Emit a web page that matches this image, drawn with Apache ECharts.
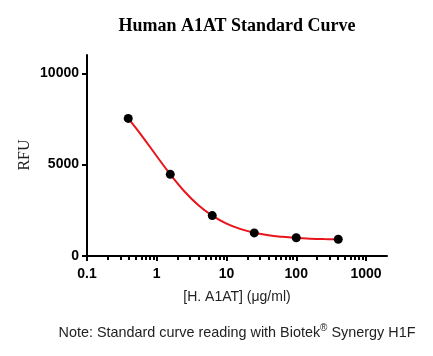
<!DOCTYPE html>
<html>
<head>
<meta charset="utf-8">
<script src="https://cdn.jsdelivr.net/npm/echarts@6/dist/echarts.min.js"></script>
<style>
html,body{margin:0;padding:0;background:#fff;}
#chart{width:433px;height:356px;}
</style>
</head>
<body>
<div id="chart"></div>
<script>
// Measured standards: concentration (µg/ml) and RFU
const concentrations = [0.39, 1.5625, 6.25, 25, 100, 400];
const rfuValues = [7530, 4470, 2210, 1265, 1000, 915];
// Fitted curve
const curveX = [0.39, 0.6, 1, 1.5625, 2.5, 4, 6.25, 10, 16, 25, 40, 63, 100, 160, 250, 400];
const curveY = [7530, 6620, 5460, 4470, 3530, 2760, 2205, 1770, 1470, 1275, 1135, 1050, 990, 950, 926, 910];
// Axis ticks
const xMajorTicks = [0.1, 1, 10, 100, 1000];
const xMinorTicks = [0.2,0.3,0.4,0.5,0.6,0.7,0.8,0.9,2,3,4,5,6,7,8,9,20,30,40,50,60,70,80,90,200,300,400,500,600,700,800,900];
const yTicks = [0, 5000, 10000];

const chart = echarts.init(document.getElementById('chart'), null, {renderer: 'canvas'});
const pts = concentrations.map((c, i) => [c, rfuValues[i]]);
const curve = curveX.map((c, i) => [c, curveY[i]]);

chart.setOption({
  animation: false,
  backgroundColor: '#fff',
  grid: {left: 87, top: 55, right: 46, bottom: 100, containLabel: false},
  xAxis: [{
    type: 'log', logBase: 10, min: 0.1, max: 2000,
    position: 'bottom',
    axisLine: {onZero: false, lineStyle: {color: '#000', width: 2}},
    axisTick: {show: true, inside: false, length: 5, lineStyle: {color: '#000', width: 2}, customValues: xMajorTicks},
    axisLabel: {customValues: xMajorTicks, margin: 11, color: '#000', fontFamily: 'Liberation Sans, Arial', fontWeight: 'bold', fontSize: 14,
      formatter: v => String(v)},
    splitLine: {show: false},
    name: '[H. A1AT] (\u03bcg/ml)', nameLocation: 'middle', nameGap: 41,
    nameTextStyle: {color: '#222', fontFamily: 'Liberation Sans, Arial', fontSize: 14, verticalAlign: 'middle'}
  }, {
    type: 'log', logBase: 10, min: 0.1, max: 2000,
    position: 'bottom',
    axisLine: {show: false, onZero: false},
    axisTick: {show: true, inside: false, length: 4, lineStyle: {color: '#000', width: 2}, customValues: xMinorTicks},
    axisLabel: {show: false},
    splitLine: {show: false}
  }],
  yAxis: {
    type: 'value', min: 0, max: 11000,
    axisLine: {show: true, onZero: false, lineStyle: {color: '#000', width: 2}},
    axisTick: {show: true, inside: false, length: 5, lineStyle: {color: '#000', width: 2}, customValues: yTicks},
    axisLabel: {customValues: yTicks, margin: 8, color: '#000', fontFamily: 'Liberation Sans, Arial', fontWeight: 'bold', fontSize: 14,
      formatter: v => String(v)},
    splitLine: {show: false}
  },
  graphic: [
    {type: 'text', x: 237, y: 26, style: {text: 'Human A1AT Standard Curve', align: 'center', verticalAlign: 'middle',
      font: 'bold 18px "Liberation Serif", "Times New Roman", serif', fill: '#000'}},
    {type: 'text', x: 24.5, y: 155, rotation: Math.PI / 2, style: {text: 'RFU', align: 'center', verticalAlign: 'middle',
      font: '16px "Liberation Serif", "Times New Roman", serif', fill: '#222'}},
    {type: 'text', x: 237, y: 332, style: {
      text: '{a|Note: Standard curve reading with Biotek}{s|\u00ae}{a| Synergy H1F}',
      align: 'center', verticalAlign: 'middle',
      rich: {
        a: {font: '14.4px "Liberation Sans", Arial, sans-serif', fill: '#222', verticalAlign: 'bottom', lineHeight: 17},
        s: {font: '10px "Liberation Sans", Arial, sans-serif', fill: '#222', verticalAlign: 'top', lineHeight: 17, padding: [0, 0, 6, 0]}
      }}}
  ],
  series: [{
    type: 'line', xAxisIndex: 0, data: curve, smooth: 0.4, showSymbol: false, symbol: 'none',
    lineStyle: {color: '#e8151b', width: 2}, z: 2
  }, {
    type: 'scatter', xAxisIndex: 0, data: pts, symbol: 'circle', symbolSize: 9,
    itemStyle: {color: '#000', opacity: 1}, z: 3
  }]
});
</script>
</body>
</html>
